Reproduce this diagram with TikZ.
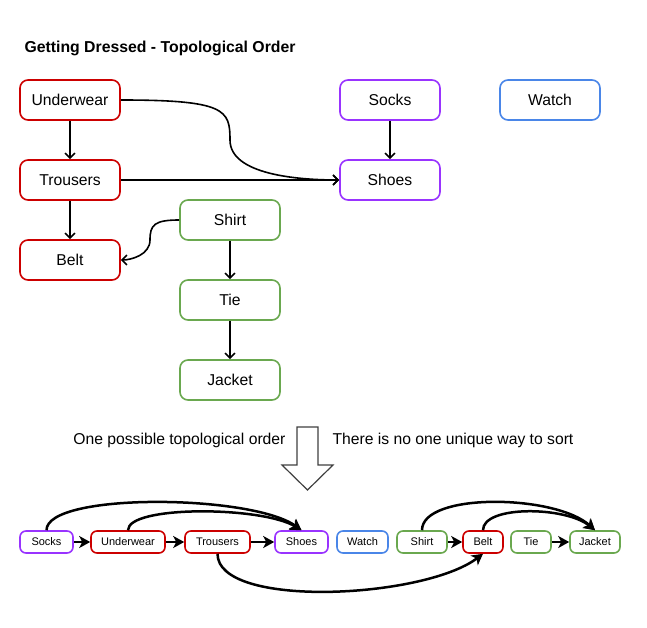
\documentclass[tikz,border=0pt]{standalone}
\usepackage{fontspec}
\setmainfont{Liberation Sans}
\usetikzlibrary{arrows.meta}
\definecolor{DressRed}{HTML}{CC0000}
\definecolor{DressPurple}{HTML}{9933FF}
\definecolor{DressBlue}{HTML}{4A86E8}
\definecolor{DressGreen}{HTML}{6AA84F}
\definecolor{DressArrow}{HTML}{404040}

\begin{document}
\begin{tikzpicture}[x=1pt,y=-1pt,
    item/.style={draw=#1,line width=1.6pt,rounded corners=8pt,minimum width=100pt,minimum height=40pt,inner sep=0pt,font=\fontsize{15.7}{18}\selectfont},
    chip/.style={draw=#1,line width=1.6pt,rounded corners=6pt,minimum height=22pt,inner sep=0pt,font=\fontsize{11}{13}\selectfont},
    dep/.style={line width=1.6pt,-{Straight Barb[length=5pt,width=10pt]}},
    seq/.style={line width=2.5pt,-{Stealth[length=11pt,width=12pt,inset=3pt]}}]
  \useasboundingbox[fill=white] (0,0) rectangle (647,628);
  \node[anchor=west,font=\bfseries\fontsize{15.8}{18}\selectfont] (title) at (21,48) {Getting Dressed - Topological Order};

  % the dependencies
  \node[item=DressRed] (underwear) at (70,100) {Underwear};
  \node[item=DressRed] (trousers) at (70,180) {Trousers};
  \node[item=DressRed] (belt) at (70,260) {Belt};
  \node[item=DressGreen] (shirt) at (230,220) {Shirt};
  \node[item=DressGreen] (tie) at (230,300) {Tie};
  \node[item=DressGreen] (jacket) at (230,380) {Jacket};
  \node[item=DressPurple] (socks) at (390,100) {Socks};
  \node[item=DressPurple] (shoes) at (390,180) {Shoes};
  \node[item=DressBlue] (watch) at (550,100) {Watch};

  \draw[dep] (underwear) -- (trousers);
  \draw[dep] (trousers) -- (belt);
  \draw[dep] (socks) -- (shoes);
  \draw[dep] (shirt) -- (tie);
  \draw[dep] (tie) -- (jacket);
  \draw[dep] (trousers) -- (shoes);
  \draw[dep] (underwear.east) .. controls +(105,0) and +(0,-30) .. (230,140) .. controls +(0,35) and +(-40,0) .. (shoes.west);
  \draw[dep] (shirt.west) .. controls +(-25,0) and +(0,-15) .. (150,240) .. controls +(0,15) and +(10,0) .. (belt.east);

  % the sort
  \node[anchor=east,font=\fontsize{15.7}{18}\selectfont] (one) at (289,440) {One possible topological order};
  \node[anchor=west,font=\fontsize{15.7}{18}\selectfont] (many) at (329,440) {There is no one unique way to sort};
  \draw[DressArrow,line width=1.2pt,line join=miter] (297,427) -- (318,427) -- (318,465) -- (333,465) -- (307.5,490) -- (282,465) -- (297,465) -- cycle;

  \node[chip=DressPurple,minimum width=53pt] (o-socks) at (46.5,542) {Socks};
  \node[chip=DressRed,minimum width=74pt] (o-underwear) at (128,542) {Underwear};
  \node[chip=DressRed,minimum width=65pt] (o-trousers) at (217.5,542) {Trousers};
  \node[chip=DressPurple,minimum width=53pt] (o-shoes) at (301.5,542) {Shoes};
  \node[chip=DressBlue,minimum width=51pt] (o-watch) at (362.5,542) {Watch};
  \node[chip=DressGreen,minimum width=50pt] (o-shirt) at (422,542) {Shirt};
  \node[chip=DressRed,minimum width=40pt] (o-belt) at (483,542) {Belt};
  \node[chip=DressGreen,minimum width=40pt] (o-tie) at (531,542) {Tie};
  \node[chip=DressGreen,minimum width=50pt] (o-jacket) at (595,542) {Jacket};

  \draw[seq] (o-socks) -- (o-underwear);
  \draw[seq] (o-underwear) -- (o-trousers);
  \draw[seq] (o-trousers) -- (o-shoes);
  \draw[seq] (o-shirt) -- (o-belt);
  \draw[seq] (o-tie) -- (o-jacket);
  \draw[seq] (o-socks.north) .. controls +(0,-38) and +(-50,-36) .. (o-shoes.north);
  \draw[seq] (o-underwear.north) .. controls +(0,-25) and +(-40,-24) .. (o-shoes.north);
  \draw[seq] (o-trousers.south) .. controls +(0,55) and +(-60,45) .. (o-belt.south);
  \draw[seq] (o-shirt.north) .. controls +(0,-38) and +(-40,-36) .. (o-jacket.north);
  \draw[seq] (o-belt.north) .. controls +(0,-25) and +(-30,-24) .. (o-jacket.north);
\end{tikzpicture}
\end{document}
